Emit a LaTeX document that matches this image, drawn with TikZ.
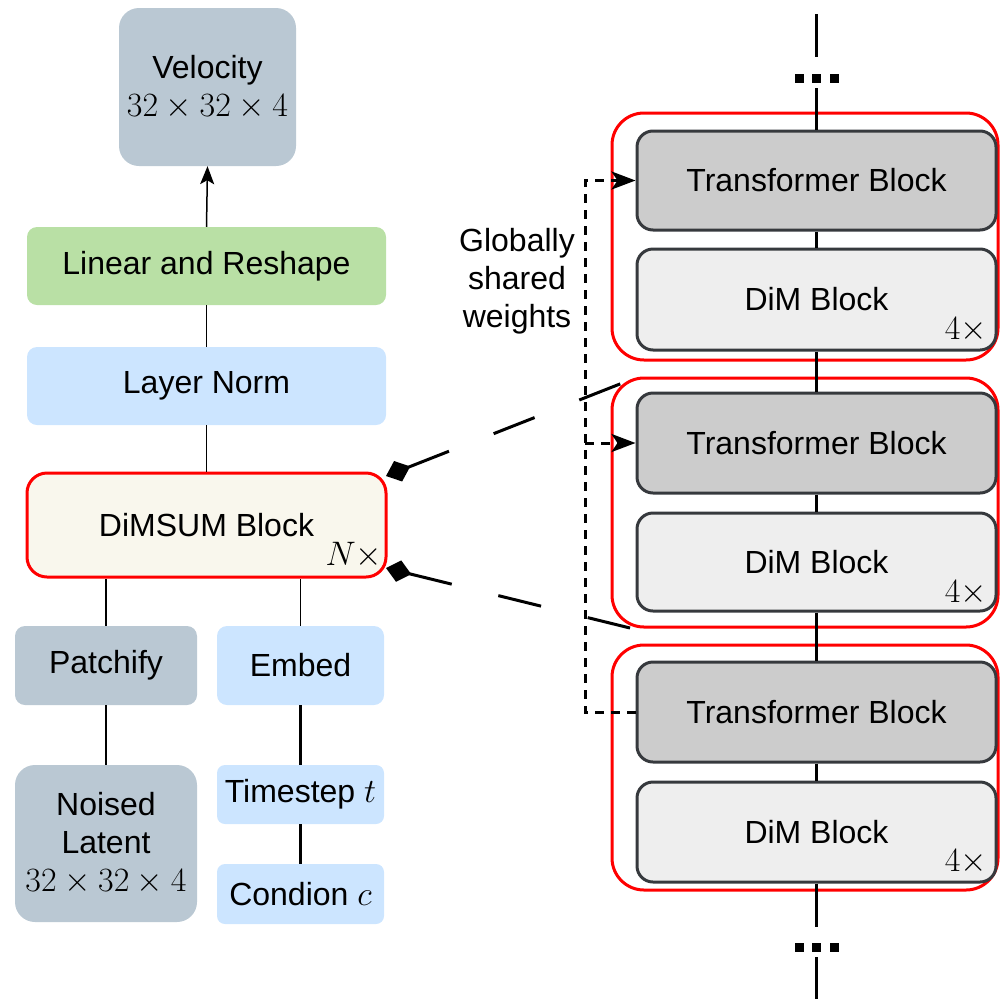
\RequirePackage{fix-cm}
\documentclass[tikz,border=0pt]{standalone}
\usepackage{fontspec}
\setmainfont{Liberation Sans}
\usetikzlibrary{arrows.meta}

\definecolor{slate}{HTML}{BAC8D3}
\definecolor{leaf}{HTML}{B9E0A5}
\definecolor{sky}{HTML}{CCE5FF}
\definecolor{cream}{HTML}{F9F7ED}
\definecolor{graybox}{HTML}{CCCCCC}
\definecolor{lightbox}{HTML}{EEEEEE}
\definecolor{edgegray}{HTML}{36393D}
\definecolor{groupred}{HTML}{FF0000}

\newcommand\dfont{\fontsize{32}{38}\selectfont}
\newcommand\mfont{\fontsize{34}{38}\selectfont}

\tikzset{
  box/.style={rounded corners=10pt, align=center, inner sep=0pt, font=\dfont},
  slatebox/.style={box, fill=slate},
  leafbox/.style={box, fill=leaf},
  skybox/.style={box, fill=sky},
  sumbox/.style={box, rounded corners=20pt, fill=cream, draw=groupred, line width=3pt},
  tfbox/.style={box, rounded corners=16pt, fill=graybox, draw=edgegray, line width=3pt},
  dimbox/.style={box, rounded corners=16pt, fill=lightbox, draw=edgegray, line width=3pt},
  grp/.style={rounded corners=32pt, draw=groupred, line width=3pt, inner sep=0pt},
  mult/.style={inner sep=0pt, font=\mfont},
  thin/.style={line width=1.5pt},
  wire/.style={line width=2.5pt},
  spine/.style={line width=3.5pt},
  shared/.style={line width=3pt, dash pattern=on 9pt off 7pt},
  sharedtip/.style={-{Stealth[length=24pt, width=18pt, inset=6pt]}},
  zoomline/.style={line width=3pt, dash pattern=on 44pt off 48pt,
    {Diamond[length=26pt, width=22pt]}-},
  dotrow/.style={inner sep=0pt},
}

\newcommand\threedots{\rule{9pt}{9pt}\hspace{8.5pt}\rule{9pt}{9pt}\hspace{8.5pt}\rule{9pt}{9pt}}

\begin{document}
\begin{tikzpicture}[x=1pt, y=-1pt]
\useasboundingbox (0,0) rectangle (1000,999);

% ---------- left column ----------
\node[slatebox, rounded corners=20pt, minimum width=177pt, minimum height=158pt]
  (vel) at (207.5,87) {Velocity\\\mfont$32\times32\times4$};
\node[leafbox, minimum width=359pt, minimum height=78pt]
  (lin) at (206.5,266) {Linear and Reshape};
\node[skybox, minimum width=359pt, minimum height=78pt]
  (ln) at (206.5,386) {Layer Norm};
\node[sumbox, minimum width=359pt, minimum height=104pt]
  (sum) at (206.5,525) {DiMSUM Block};
\node[mult] (nmul) at (354,555) {$N\times$};

\node[slatebox, minimum width=182pt, minimum height=79pt]
  (patch) at (106,665.5) {Patchify};
\node[skybox, minimum width=167pt, minimum height=79pt]
  (embed) at (300.5,665.5) {Embed};
\node[slatebox, rounded corners=20pt, minimum width=182pt, minimum height=157pt]
  (lat) at (106,843.5) {Noised\\Latent\\\mfont$32\times32\times4$};
\node[skybox, rounded corners=8pt, minimum width=167pt, minimum height=59pt]
  (time) at (300.5,794.5) {Timestep \mfont$t$};
\node[skybox, rounded corners=8pt, minimum width=167pt, minimum height=60pt]
  (cond) at (300.5,894) {Condion \mfont$c$};

\draw[thin, -{Stealth[length=18pt, width=14pt, inset=4pt]}] (lin.north) -- (vel.south);
\draw[thin] (lin.south) -- (ln.north);
\draw[thin] (ln.south) -- (sum.north);
\draw[thin] (patch.north) -- (patch.north |- sum.south);
\draw[thin] (embed.north) -- (embed.north |- sum.south);
\draw[thin] (patch.south) -- (lat.north);
\draw[wire] (embed.south) -- (time.north);
\draw[wire] (time.south) -- (cond.north);

% ---------- right column: repeated groups ----------
\node[grp, minimum width=386pt, minimum height=247pt] (g1) at (805,236.5) {};
\node[grp, minimum width=386pt, minimum height=249pt] (g2) at (805,502.5) {};
\node[grp, minimum width=386pt, minimum height=245pt] (g3) at (805,767.5) {};

\node[tfbox, minimum width=359pt, minimum height=99pt] (t1) at (816.5,180.5) {Transformer Block};
\node[dimbox, minimum width=359pt, minimum height=101pt] (d1) at (816.5,299.5) {DiM Block};
\node[tfbox, minimum width=359pt, minimum height=100pt] (t2) at (816.5,443) {Transformer Block};
\node[dimbox, minimum width=359pt, minimum height=98pt] (d2) at (816.5,562) {DiM Block};
\node[tfbox, minimum width=359pt, minimum height=100pt] (t3) at (816.5,712) {Transformer Block};
\node[dimbox, minimum width=359pt, minimum height=100pt] (d3) at (816.5,832) {DiM Block};

\node[mult] (m1) at (966,330) {$4\times$};
\node[mult] (m2) at (966,593) {$4\times$};
\node[mult] (m3) at (966,862) {$4\times$};

% spine through the stack
\coordinate (sTop) at (816.5,14);
\coordinate (sTopA) at (816.5,57);
\coordinate (sTopB) at (816.5,88);
\node[dotrow] (dotsTop) at (816.5,78.5) {\threedots};
\coordinate (sBotA) at (816.5,927);
\coordinate (sBotB) at (816.5,957);
\coordinate (sBot) at (816.5,999);
\node[dotrow] (dotsBot) at (816.5,947.5) {\threedots};

\draw[spine] (sTop) -- (sTopA);
\draw[spine] (sTopB) -- (t1.north);
\draw[spine] (t1.south) -- (d1.north);
\draw[spine] (d1.south) -- (t2.north);
\draw[spine] (t2.south) -- (d2.north);
\draw[spine] (d2.south) -- (t3.north);
\draw[spine] (t3.south) -- (d3.north);
\draw[spine] (d3.south) -- (sBotA);
\draw[spine] (sBotB) -- (sBot);

% shared weights
\coordinate (wLow) at (585,712);
\coordinate (wMid) at (585,443);
\draw[shared, sharedtip] (t3.west) -- (wLow) |- (t1.west);
\draw[shared, sharedtip] (wMid) -- (t2.west);
\node[font=\dfont, align=center, inner sep=0pt] (wlabel) at (517,281)
  {Globally\\shared\\weights};

% zoom lines from the block to one expanded group
\coordinate (zTop) at (625,382);
\coordinate (zBot) at (630,628);
\draw[zoomline] (386,476) -- (zTop);
\draw[zoomline] (386,568) -- (zBot);

\end{tikzpicture}
\end{document}
